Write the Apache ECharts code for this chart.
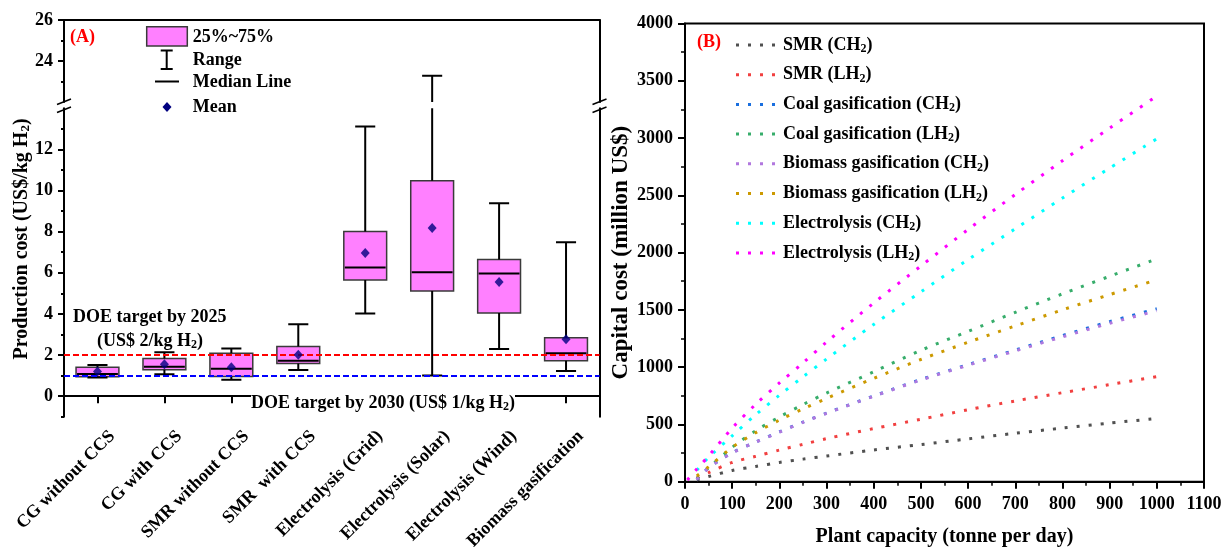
<!DOCTYPE html>
<html><head><meta charset="utf-8">
<script src="https://cdn.jsdelivr.net/npm/echarts@6/dist/echarts.min.js"></script>
<style>html,body{margin:0;padding:0;background:#fff}#c{width:1225px;height:547px}</style>
</head><body><div id="c"></div>
<script>
// ---------- Panel A data ----------
const categories = ['CG without CCS','CG with CCS','SMR without CCS','SMR  with CCS','Electrolysis (Grid)','Electrolysis (Solar)','Electrolysis (Wind)','Biomass gasification'];
const minVals    = [0.91, 1.07, 0.80, 1.27, 4.02, 1.00, 2.29, 1.22];
const q1Vals     = [0.94, 1.28, 0.96, 1.59, 5.65, 5.11, 4.04, 1.72];
const medianVals = [1.08, 1.43, 1.33, 1.72, 6.26, 6.03, 5.97, 2.09];
const q3Vals     = [1.41, 1.83, 2.09, 2.42, 8.01, 10.48, 6.64, 2.84];
const maxVals    = [1.51, 2.14, 2.32, 3.50, 13.12, 23.28, 9.38, 7.48];
const meanVals   = [1.20, 1.55, 1.41, 2.01, 6.96, 8.18, 5.55, 2.77];
const doeTargets = [2, 1];
const yTicksLower = [0, 2, 4, 6, 8, 10, 12];
const yMinorLower = [-1, 1, 3, 5, 7, 9, 11, 13];
const yTicksUpper = [24, 26];
const yMinorUpper = [23, 25];

// ---------- Panel B data ----------
const capacity = [5, 25, 50, 100, 150, 200, 250, 300, 400, 500, 600, 700, 800, 900, 1000];
const smrCH2  = [null, 15, 45, 98, 133, 168, 197, 224, 277, 324, 374, 423, 468, 512, 552];
const smrLH2  = [null, 35, 80, 168, 222, 276, 326, 376, 464, 545, 628, 705, 777, 847, 918];
const coalCH2 = [null, 20, 121, 253, 346, 435, 520, 599, 748, 892, 1022, 1149, 1276, 1397, 1510];
const coalLH2 = [null, 28, 120, 300, 445, 565, 673, 774, 960, 1147, 1312, 1479, 1640, 1793, 1946];
const bioCH2  = [null, 20, 120, 252, 345, 433, 518, 597, 746, 888, 1017, 1142, 1265, 1383, 1493];
const bioLH2  = [null, 50, 130, 300, 428, 538, 635, 727, 902, 1067, 1217, 1360, 1500, 1633, 1763];
const elecCH2 = [null, 100, 212, 401, 585, 755, 915, 1071, 1373, 1657, 1939, 2208, 2476, 2738, 2993];
const elecLH2 = [15, 110, 225, 468, 676, 862, 1037, 1219, 1560, 1883, 2202, 2507, 2802, 3087, 3367];
const lineNames = ['SMR (CH2)','SMR (LH2)','Coal gasification (CH2)','Coal gasification (LH2)','Biomass gasification (CH2)','Biomass gasification (LH2)','Electrolysis (CH2)','Electrolysis (LH2)'];
const lineValues = [smrCH2, smrLH2, coalCH2, coalLH2, bioCH2, bioLH2, elecCH2, elecLH2];
const lineColors = ['#505050','#F14040','#1A6FDF','#37AD6B','#B177DE','#CC9900','#00FFFF','#FF00FF'];

const FONT = '"Liberation Serif","Times New Roman",serif';
const chart = echarts.init(document.getElementById('c'));

const boxData = categories.map((c, i) => [i, q1Vals[i], q3Vals[i]]);
const medData = categories.map((c, i) => [i, medianVals[i]]);
const rangeData = categories.map((c, i) => [i, minVals[i], q1Vals[i], q3Vals[i], maxVals[i]]);
const upperRangeData = rangeData.filter(d => d[4] > 22);
const meanData = categories.map((c, i) => [i, meanVals[i]]);

function renderBox(params, api) {
  const i = api.value(0);
  const bw = api.size([1, 0])[0] * 0.64;
  const lo = api.coord([i, api.value(1)]);
  const hi = api.coord([i, api.value(2)]);
  return { type: 'rect', shape: { x: lo[0] - bw / 2, y: hi[1], width: bw, height: lo[1] - hi[1] },
    style: { fill: '#FF80FF', stroke: '#3a3a3a', lineWidth: 1.5 } };
}
function renderMedian(params, api) {
  const i = api.value(0);
  const bw = api.size([1, 0])[0] * 0.64;
  const p = api.coord([i, api.value(1)]);
  return { type: 'line', shape: { x1: p[0] - bw / 2 + 1, y1: p[1], x2: p[0] + bw / 2 - 1, y2: p[1] },
    style: { stroke: '#000', lineWidth: 2 } };
}
function renderRange(params, api) {
  const i = api.value(0);
  const cw = api.size([1, 0])[0] * 0.30;
  const pMin = api.coord([i, api.value(1)]);
  const pQ1 = api.coord([i, api.value(2)]);
  const pQ3 = api.coord([i, api.value(3)]);
  const pMax = api.coord([i, api.value(4)]);
  const st = { stroke: '#000', lineWidth: 2 };
  return { type: 'group', children: [
    { type: 'line', shape: { x1: pMin[0], y1: pMin[1], x2: pQ1[0], y2: pQ1[1] }, style: st },
    { type: 'line', shape: { x1: pQ3[0], y1: pQ3[1], x2: pMax[0], y2: pMax[1] }, style: st },
    { type: 'line', shape: { x1: pMin[0] - cw / 2, y1: pMin[1], x2: pMin[0] + cw / 2, y2: pMin[1] }, style: st },
    { type: 'line', shape: { x1: pMax[0] - cw / 2, y1: pMax[1], x2: pMax[0] + cw / 2, y2: pMax[1] }, style: st }
  ] };
}

const labelStyle = { fontFamily: FONT, fontWeight: 'bold', fontSize: 18, color: '#000' };
const axisLineStyle = { show: true, lineStyle: { color: '#000', width: 2 } };
const subRich = { s: { fontFamily: FONT, fontWeight: 'bold', fontSize: 12, color: '#000', verticalAlign: 'bottom', lineHeight: 9 } };
const plainNum = v => String(v);
const dotIcon = 'path://M0,0h3v3h-3z M12,0h3v3h-3z M24,0h3v3h-3z M36,0h3v3h-3z';

function gText(x, y, text, opts) {
  opts = opts || {};
  const size = opts.size || 18;
  const st = { text: text, fontFamily: FONT, fontWeight: 'bold', fontSize: size, fill: opts.color || '#000',
      align: opts.align || 'left', verticalAlign: 'middle', lineHeight: 20,
      rich: { s: { fontFamily: FONT, fontWeight: 'bold', fontSize: Math.round(size * 0.65), fill: opts.color || '#000', verticalAlign: 'bottom', lineHeight: 9 } } };
  if (opts.bg) st.backgroundColor = opts.bg;
  return { type: 'text', x: x, y: y, rotation: opts.rotation || 0, z: 100, style: st };
}
function gLine(x1, y1, x2, y2, w) {
  return { type: 'line', z: 100, shape: { x1, y1, x2, y2 }, style: { stroke: '#000', lineWidth: w || 1.5 } };
}

const graphics = [
  gText(70, 37, '(A)', { color: '#FF0000' }),
  gText(697, 42.7, '(B)', { color: '#FF0000' }),
  gText(22, 239, 'Production cost (US$/kg H{s|2})', { align: 'center', rotation: Math.PI / 2, size: 20 }),
  gText(73, 317, 'DOE target by 2025', {}),
  gText(150, 341, '(US$ 2/kg H{s|2})', { align: 'center' }),
  gText(383, 403, 'DOE target by 2030 (US$ 1/kg H{s|2})', { align: 'center', bg: '#fff' }),
  // legend A
  { type: 'rect', z: 100, shape: { x: 146.7, y: 26.7, width: 40.6, height: 19.3 }, style: { fill: '#FF80FF', stroke: '#3a3a3a', lineWidth: 1.5 } },
  gText(192.7, 37, '25%~75%', {}),
  gLine(166.7, 50.5, 166.7, 69, 2), gLine(160.7, 50.5, 172.7, 50.5, 2), gLine(160.7, 69, 172.7, 69, 2),
  gText(192.7, 60, 'Range', {}),
  gLine(155, 81.5, 179, 81.5, 2),
  gText(192.7, 82, 'Median Line', {}),
  { type: 'polygon', z: 100, shape: { points: [[167, 102], [171.5, 107], [167, 112], [162.5, 107]] }, style: { fill: '#000080' } },
  gText(192.7, 107, 'Mean', {}),
  // axis break marks
  gLine(57, 104.5, 71, 99), gLine(57, 112.5, 71, 107),
  gLine(592.5, 104.5, 606.5, 99), gLine(592.5, 112.5, 606.5, 107)
];

const option = {
  animation: false,
  backgroundColor: '#fff',
  textStyle: { fontFamily: FONT },
  graphic: graphics,
  grid: [
    { left: 64, top: 20, width: 535.5, height: 82, outerBoundsMode: 'none', containLabel: false },
    { left: 64, top: 108.3, width: 535.5, height: 308.4, outerBoundsMode: 'none', containLabel: false },
    { left: 685, top: 23.5, width: 519, height: 458.2, show: true, borderColor: '#000', borderWidth: 2, outerBoundsMode: 'none', containLabel: false }
  ],
  legend: {
    left: 731, top: 30, orient: 'vertical', itemWidth: 39, itemHeight: 3, itemGap: 9.7,
    symbolKeepAspect: false,
    data: lineNames.map(n => ({ name: n, icon: dotIcon })),
    formatter: n => n.replace('H2)', 'H{s|2})'),
    textStyle: Object.assign({}, labelStyle, { lineHeight: 20, padding: [0, 0, 0, 3], rich: subRich })
  },
  xAxis: [
    { gridIndex: 0, type: 'category', data: categories, position: 'top', axisLine: axisLineStyle,
      axisTick: { show: false }, axisLabel: { show: false }, splitLine: { show: false } },
    { gridIndex: 1, type: 'category', data: categories, position: 'bottom', axisLine: axisLineStyle,
      axisTick: { show: true, alignWithLabel: true, length: 7, lineStyle: { color: '#000', width: 2 } },
      axisLabel: Object.assign({}, labelStyle, { fontSize: 18, rotate: 45, interval: 0, margin: 2, verticalAlign: 'top', padding: [12, 0, 0, 0] }),
      splitLine: { show: false } },
    { gridIndex: 2, type: 'value', min: 0, max: 1100, interval: 100, axisLine: axisLineStyle,
      axisTick: { length: 7, lineStyle: { color: '#000', width: 2 } },
      minorTick: { show: true, splitNumber: 2, length: 4, lineStyle: { color: '#000', width: 1.5 } },
      splitLine: { show: false }, minorSplitLine: { show: false },
      axisLabel: Object.assign({}, labelStyle, { margin: 14, formatter: plainNum }),
      name: 'Plant capacity (tonne per day)', nameLocation: 'middle', nameGap: 45,
      nameTextStyle: Object.assign({}, labelStyle, { fontSize: 20 }) }
  ],
  yAxis: [
    { gridIndex: 0, type: 'value', min: 22, max: 26, position: 'left', axisLine: axisLineStyle,
      axisTick: { show: true, customValues: yTicksUpper, length: 6, lineStyle: { color: '#000', width: 2 } },
      axisLabel: Object.assign({}, labelStyle, { customValues: yTicksUpper, margin: 11 }), splitLine: { show: false } },
    { gridIndex: 0, type: 'value', min: 22, max: 26, position: 'left', axisLine: { show: false },
      axisTick: { show: true, customValues: yMinorUpper, length: 3, lineStyle: { color: '#000', width: 2 } },
      axisLabel: { show: false }, splitLine: { show: false } },
    { gridIndex: 0, type: 'value', min: 22, max: 26, position: 'right', axisLine: axisLineStyle,
      axisTick: { show: false }, axisLabel: { show: false }, splitLine: { show: false } },
    { gridIndex: 1, type: 'value', min: -1, max: 14, position: 'left', axisLine: axisLineStyle,
      axisTick: { show: true, customValues: yTicksLower, length: 6, lineStyle: { color: '#000', width: 2 } },
      axisLabel: Object.assign({}, labelStyle, { customValues: yTicksLower, margin: 11 }), splitLine: { show: false } },
    { gridIndex: 1, type: 'value', min: -1, max: 14, position: 'left', axisLine: { show: false },
      axisTick: { show: true, customValues: yMinorLower, length: 3, lineStyle: { color: '#000', width: 2 } },
      axisLabel: { show: false }, splitLine: { show: false } },
    { gridIndex: 1, type: 'value', min: -1, max: 14, position: 'right', axisLine: axisLineStyle,
      axisTick: { show: false }, axisLabel: { show: false }, splitLine: { show: false } },
    { gridIndex: 2, type: 'value', min: 0, max: 4000, interval: 500, axisLine: axisLineStyle,
      axisTick: { length: 7, lineStyle: { color: '#000', width: 2 } },
      minorTick: { show: true, splitNumber: 2, length: 4, lineStyle: { color: '#000', width: 1.5 } },
      splitLine: { show: false }, minorSplitLine: { show: false },
      axisLabel: Object.assign({}, labelStyle, { margin: 12, formatter: plainNum }),
      name: 'Capital cost (million US$)', nameLocation: 'middle', nameGap: 52,
      nameTextStyle: Object.assign({}, labelStyle, { fontSize: 23 }) }
  ],
  series: [
    { name: '25%~75%', type: 'custom', xAxisIndex: 1, yAxisIndex: 3, renderItem: renderBox, data: boxData, z: 2,
      encode: { x: 0, y: [1, 2] } },
    { name: 'Range', type: 'custom', xAxisIndex: 1, yAxisIndex: 3, renderItem: renderRange, data: rangeData, z: 2, clip: true,
      encode: { x: 0, y: [1, 2, 3, 4] } },
    { name: 'Range upper', type: 'custom', xAxisIndex: 0, yAxisIndex: 0, renderItem: renderRange, data: upperRangeData, z: 2, clip: true,
      encode: { x: 0, y: [1, 2, 3, 4] } },
    { name: 'Median Line', type: 'custom', xAxisIndex: 1, yAxisIndex: 3, renderItem: renderMedian, data: medData, z: 3,
      encode: { x: 0, y: 1 } },
    { name: 'DOE', type: 'line', xAxisIndex: 1, yAxisIndex: 3, data: [], z: 4,
      markLine: { silent: true, symbol: 'none', label: { show: false },
        data: [
          { yAxis: doeTargets[0], lineStyle: { color: '#FF0000', type: [6, 3], width: 2 } },
          { yAxis: doeTargets[1], lineStyle: { color: '#0000FF', type: [6, 3], width: 2 } }
        ] } },
    { name: 'Mean', type: 'scatter', xAxisIndex: 1, yAxisIndex: 3, data: meanData, symbol: 'diamond', symbolSize: [9, 10],
      itemStyle: { color: '#000080' }, z: 5 }
  ].concat(lineNames.map((n, k) => ({
    name: n, type: 'line', xAxisIndex: 2, yAxisIndex: 6, smooth: 0.3, symbol: 'none', showSymbol: false,
    data: capacity.map((x, i) => [x, lineValues[k][i]]),
    itemStyle: { color: lineColors[k] },
    lineStyle: { color: lineColors[k], width: 3, type: [3, 9], cap: 'butt' }
  })))
};
chart.setOption(option);
</script></body></html>
